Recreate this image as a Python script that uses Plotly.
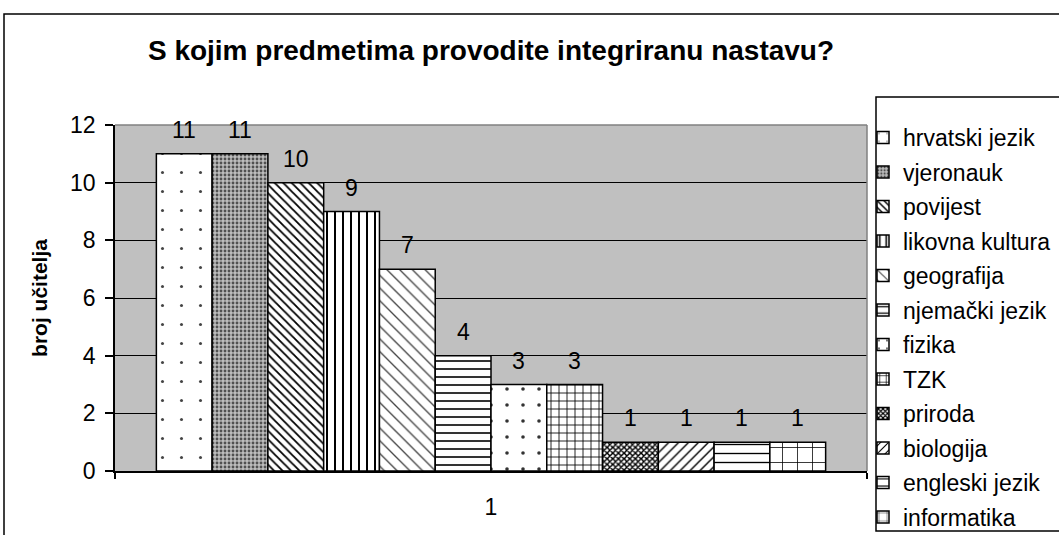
import plotly.graph_objects as go

# ---- data ----
subjects = ["hrvatski jezik", "vjeronauk", "povijest", "likovna kultura", "geografija",
            "njemački jezik", "fizika", "TZK", "priroda", "biologija", "engleski jezik", "informatika"]
counts = [11, 11, 10, 9, 7, 4, 3, 3, 1, 1, 1, 1]
category = ["1"]
y_ticks = [0, 2, 4, 6, 8, 10, 12]

title_text = "S kojim predmetima provodite integriranu nastavu?"
y_title = "broj učitelja"

# ---- styles (pattern shape, tile size, solidity, fg colour, bg colour) ----
patterns = [
    (".", 19, 0.02, "#444444", "white"),
    (".", 4, 0.4, "#505050", "#bdbdbd"),
    ("\\", 6, 0.3, "#000000", "white"),
    ("|", 8, 0.25, "#000000", "white"),
    ("\\", 9, 0.15, "#444444", "white"),
    ("-", 8, 0.2, "#000000", "white"),
    (".", 16, 0.04, "#333333", "white"),
    ("+", 8, 0.2, "#000000", "white"),
    ("x", 4, 0.6, "#000000", "white"),
    ("/", 7, 0.2, "#000000", "white"),
    ("-", 9, 0.15, "#000000", "white"),
    ("+", 15, 0.1, "#000000", "white"),
]

W_FIG, H_FIG = 1059, 535
L, R, T, B = 115, 867, 125, 471  # plot area in page pixels


def px(x):
    return (x - L) / (R - L)


def py(y):
    return (B - y) / (B - T)


FONT = "Liberation Sans, Arial, sans-serif"
FS = 23
BARGAP = 0.11

fig = go.Figure()
for name, val, (shp, size, sol, fg, bg) in zip(subjects, counts, patterns):
    fig.add_trace(go.Bar(
        x=category, y=[val], name=name, legendgroup=name,
        marker=dict(color=bg, line=dict(color="black", width=1.5),
                    pattern=dict(shape=shp, size=size, solidity=sol,
                                 fgcolor=fg, bgcolor=bg, fillmode="replace")),
    ))

# data labels above each bar (positions from the axis' category index)
n = len(subjects)
bar_w = (1 - BARGAP) / n
annotations = []
for i, val in enumerate(counts):
    annotations.append(dict(
        x=-0.5 + BARGAP / 2 + (i + 0.5) * bar_w, y=val, xref="x", yref="y",
        text=str(val), showarrow=False, yanchor="middle", xanchor="center",
        yshift=24, font=dict(size=FS, color="black", family=FONT)))

fig.update_layout(
    width=W_FIG, height=H_FIG, autosize=False,
    margin=dict(l=L, r=W_FIG - R, t=T, b=H_FIG - B, pad=0, autoexpand=False),
    paper_bgcolor="white", plot_bgcolor="#C0C0C0",
    font=dict(family=FONT, color="black", size=FS),
    barmode="group", bargap=BARGAP, bargroupgap=0,
    hovermode=False,
    title=dict(text=title_text, x=px(491), xref="paper", xanchor="center",
               y=1 - 50 / H_FIG, yref="container", yanchor="middle",
               font=dict(size=28, weight="bold", family=FONT, color="black")),
    showlegend=True,
    legend=dict(x=px(863), y=py(116), xanchor="left", yanchor="top",
                bgcolor="rgba(0,0,0,0)", borderwidth=0, maxheight=500,
                font=dict(size=FS, family=FONT, color="black"),
                tracegroupgap=1.6, traceorder="grouped"),
    xaxis=dict(type="category", showline=True, linecolor="black", linewidth=1.5,
               ticks="outside", tickson="boundaries", ticklen=6, tickcolor="black",
               tickwidth=1.5, tickfont=dict(size=FS), ticklabelstandoff=15,
               showgrid=False, zeroline=False),
    yaxis=dict(range=[0, 12], tickvals=y_ticks, showgrid=True, gridcolor="black",
               gridwidth=1, showline=True, linecolor="black", linewidth=1.5,
               ticks="outside", ticklen=8, tickcolor="black", tickwidth=1.5,
               tickfont=dict(size=FS), ticklabelstandoff=5, zeroline=False,
               title=dict(text=y_title, standoff=17,
                          font=dict(size=21, weight="bold", family=FONT))),
    annotations=annotations,
    shapes=[
        # outer chart border
        dict(type="rect", xref="paper", yref="paper", x0=px(4), x1=px(1080),
             y0=py(550), y1=py(14), line=dict(color="black", width=1.5)),
        # legend box
        dict(type="rect", xref="paper", yref="paper", x0=px(876), x1=px(1080),
             y0=py(531), y1=py(97), line=dict(color="black", width=1.5)),
        # plot area border (top and right)
        dict(type="line", xref="paper", yref="paper", x0=0, x1=1, y0=1, y1=1,
             line=dict(color="#808080", width=1.5)),
        dict(type="line", xref="paper", yref="paper", x0=1, x1=1, y0=0, y1=1,
             line=dict(color="#808080", width=1.5)),
    ],
)

fig.write_html("out.html", config={"displayModeBar": False},
               post_script="document.body.style.margin = '0';")
